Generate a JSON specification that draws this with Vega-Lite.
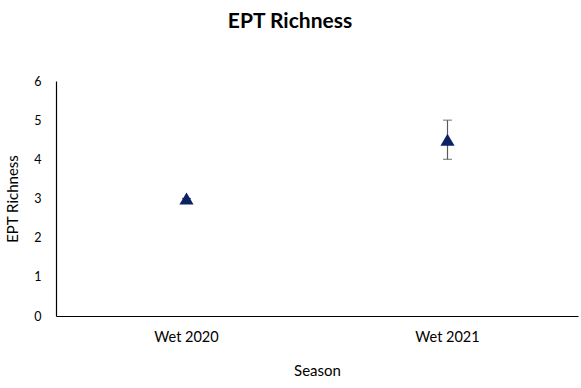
{
  "$schema": "https://vega.github.io/schema/vega-lite/v6.json",
  "width": 522,
  "height": 235,
  "autosize": {"type": "none"},
  "padding": {"left": 56, "top": 81, "right": 3, "bottom": 72},
  "background": "white",
  "title": {"text": "EPT Richness", "font": "Lato", "fontSize": 21, "fontWeight": "bold", "color": "#000000", "anchor": "middle", "dx": -27, "offset": 43},
  "data": {"values": [
    {"season": "Wet 2020", "mean": 3.0, "lo": 3.0, "hi": 3.0},
    {"season": "Wet 2021", "mean": 4.5, "lo": 4.0, "hi": 5.0}
  ]},
  "encoding": {
    "x": {"field": "season", "type": "nominal", "sort": null,
      "scale": {"paddingInner": 0, "paddingOuter": 0},
      "axis": {"title": "Season", "labelAngle": 0, "ticks": false, "domainColor": "#000000", "domainWidth": 1.2, "labelFont": "Lato", "labelFontSize": 14.5, "labelColor": "#000000", "labelPadding": 14, "titleFont": "Lato", "titleFontSize": 15, "titleFontWeight": "normal", "titleColor": "#000000", "titlePadding": 20}}
  },
  "layer": [
    {
      "mark": {"type": "rule", "color": "#595959", "strokeWidth": 1.2},
      "encoding": {
        "y": {"field": "lo", "type": "quantitative"},
        "y2": {"field": "hi"}
      }
    },
    {
      "mark": {"type": "tick", "color": "#595959", "thickness": 1.2, "size": 9, "orient": "horizontal"},
      "encoding": {"y": {"field": "lo", "type": "quantitative"}}
    },
    {
      "mark": {"type": "tick", "color": "#595959", "thickness": 1.2, "size": 9, "orient": "horizontal"},
      "encoding": {"y": {"field": "hi", "type": "quantitative"}}
    },
    {
      "mark": {"type": "point", "shape": "triangle-up", "filled": true, "color": "#0b2265", "opacity": 1, "size": 200},
      "encoding": {
        "y": {"field": "mean", "type": "quantitative",
          "scale": {"domain": [0, 6]},
          "axis": {"title": "EPT Richness", "grid": false, "ticks": false, "tickCount": 6, "domainColor": "#000000", "domainWidth": 1.2, "labelFont": "Lato", "labelFontSize": 12.5, "labelColor": "#000000", "labelPadding": 15, "titleFont": "Lato", "titleFontSize": 15, "titleFontWeight": "normal", "titleColor": "#000000", "titlePadding": 13}}
      }
    }
  ],
  "config": {"view": {"stroke": null}}
}
